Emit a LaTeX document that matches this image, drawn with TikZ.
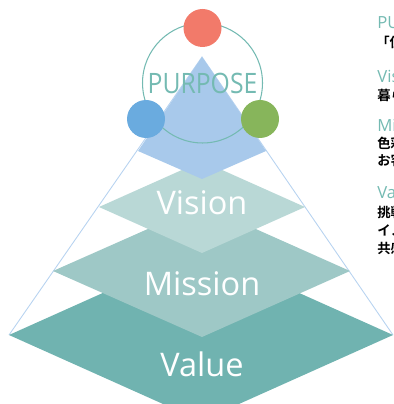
\documentclass[tikz,border=0pt]{standalone}
\usepackage{fontspec}
\setmainfont{Open Sans}
\newfontfamily\jpfont{Noto Sans CJK JP Bold}
\usetikzlibrary{shapes.geometric, arrows}
\definecolor{valuecol}{HTML}{70B3B0}
\definecolor{missioncol}{HTML}{9EC8C6}
\definecolor{visioncol}{HTML}{B9D8D6}
\definecolor{purposecol}{HTML}{A8C9EB}
\definecolor{ringcol}{HTML}{74BAB2}
\definecolor{edgecol}{HTML}{B7D3F0}
\definecolor{redcol}{HTML}{F27A6A}
\definecolor{bluecol}{HTML}{6AABDF}
\definecolor{greencol}{HTML}{87B55B}
\tikzstyle{edge} = [draw=edgecol, line width=0.5pt]
\tikzstyle{tier} = [text=white, font=\fontsize{18.5}{20}\selectfont]
\tikzstyle{dot} = [circle, minimum size=0.76cm, inner sep=0pt]
\tikzstyle{head} = [anchor=west, text=ringcol, inner sep=0pt, font=\fontsize{9.5}{10}\selectfont]
\tikzstyle{body} = [anchor=west, inner sep=0pt, font=\jpfont\fontsize{7.6}{8}\selectfont]

\begin{document}
\begin{tikzpicture}[x=0.02cm, y=-0.02cm]
        \useasboundingbox (0,0) rectangle (393,404);
        \clip (0,0) rectangle (393,404);
        % pyramid
        \coordinate (apex) at (202,57);
        \coordinate (left) at (9,335);
        \coordinate (right) at (393,335);
        \draw [edge] (left) -- (apex) -- (right);
        \fill [valuecol] (left) -- (201,249) -- (right) -- (201,421) -- cycle;
        \fill [missioncol] (53,271) -- (202,205) -- (350,271) -- (202,337) -- cycle;
        \fill [visioncol] (99,207) -- (202,161) -- (305,207) -- (202,253) -- cycle;
        \fill [purposecol] (apex) -- (266,151) -- (202,179) -- (138,151) -- cycle;
        \node (vision)[tier] at (202,203) {Vision};
        \node (mission)[tier] at (202,284) {Mission};
        \node (value)[tier] at (202,364) {Value};
        % purpose ring
        \node (ring)[circle, draw=ringcol, line width=0.6pt,
            minimum size=2.4cm] at (202.5,83) {};
        \node (purpose)[text=ringcol, xscale=0.88,
            font=\fontsize{16}{16}\selectfont] at (ring.center) {PURPOSE};
        \node (red)[dot, fill=redcol] at (202.5,28) {};
        \node (blue)[dot, fill=bluecol] at (146,119) {};
        \node (green)[dot, fill=greencol] at (260,119) {};
        % side notes
        \node (phead)[head] at (377,23) {PURPOSE};
        \node (ptext)[body] at (376,42) {「使命};
        \node (vhead)[head] at (377,76) {Vision};
        \node (vtext)[body] at (377,95) {暮らし};
        \node (mhead)[head] at (377,125) {Mission};
        \node (mtext1)[body] at (377,143) {色彩};
        \node (mtext2)[body] at (377,160) {お客};
        \node (vahead)[head] at (377,192) {Value};
        \node (vatext1)[body] at (377,212) {挑戦};
        \node (vatext2)[body] at (377,230) {イノ};
        \node (vatext3)[body] at (377,248) {共感};
    \end{tikzpicture}
\end{document}
